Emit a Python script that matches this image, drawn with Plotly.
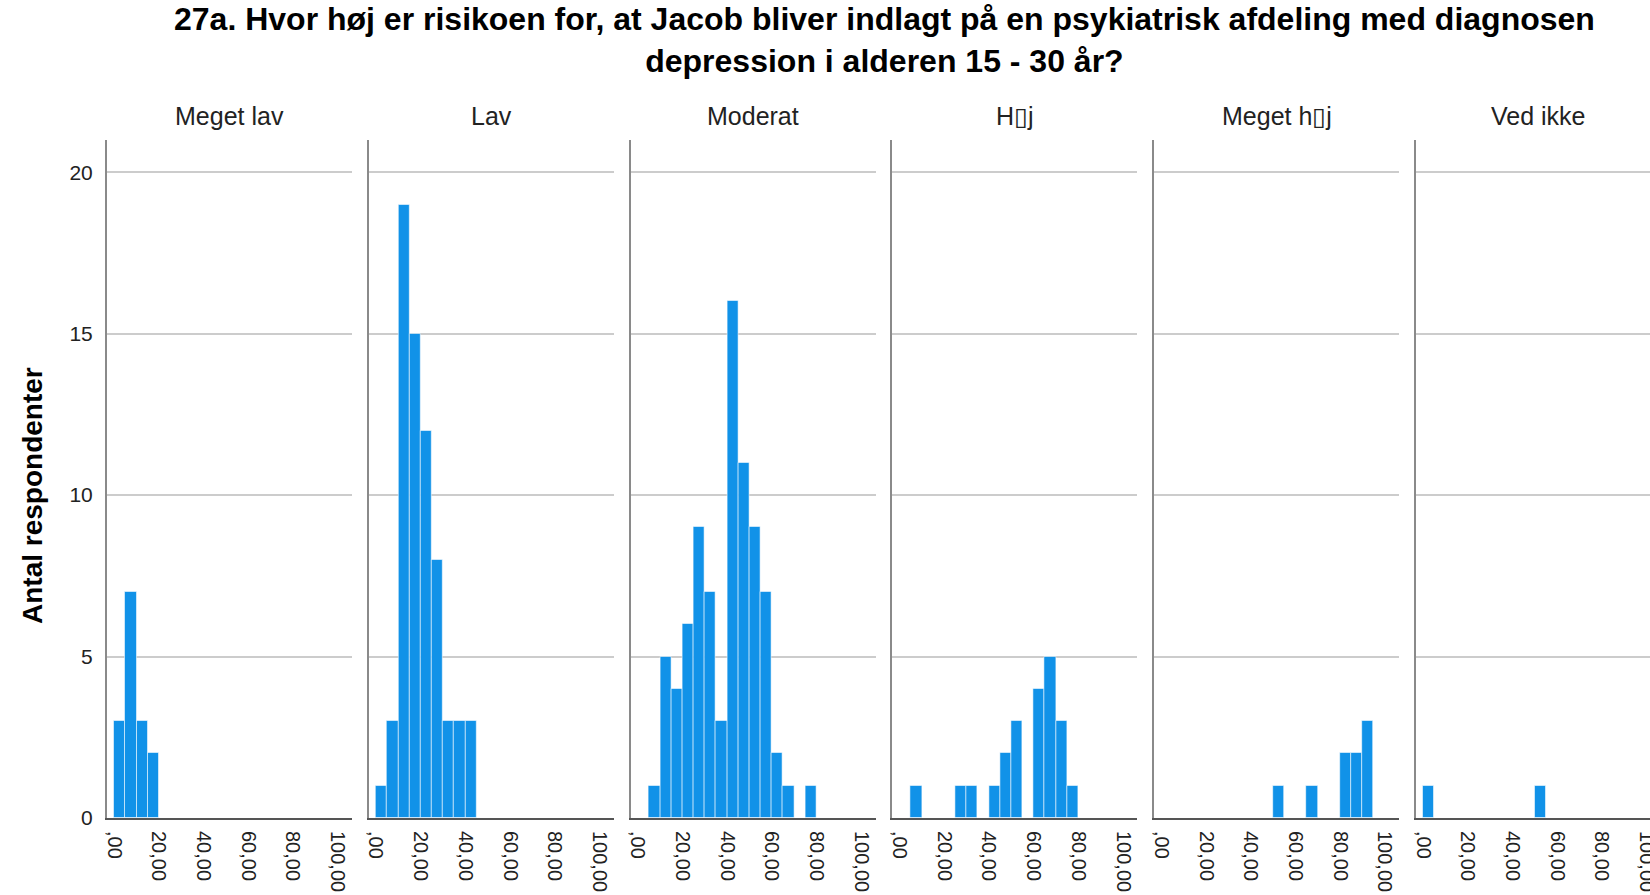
import plotly.graph_objects as go

# ---------------- data ----------------
bin_starts = [0, 5, 10, 15, 20, 25, 30, 35, 40, 45, 50, 55, 60, 65, 70, 75, 80, 85, 90, 95]

panel_names = ["Meget lav", "Lav", "Moderat", "H\u25afj", "Meget h\u25afj", "Ved ikke"]

meget_lav  = [3, 7, 3, 2, 0, 0, 0, 0, 0, 0, 0, 0, 0, 0, 0, 0, 0, 0, 0, 0]
lav        = [1, 3, 19, 15, 12, 8, 3, 3, 3, 0, 0, 0, 0, 0, 0, 0, 0, 0, 0, 0]
moderat    = [0, 1, 5, 4, 6, 9, 7, 3, 16, 11, 9, 7, 2, 1, 0, 1, 0, 0, 0, 0]
hoej       = [0, 1, 0, 0, 0, 1, 1, 0, 1, 2, 3, 0, 4, 5, 3, 1, 0, 0, 0, 0]
meget_hoej = [0, 0, 0, 0, 0, 0, 0, 0, 0, 0, 1, 0, 0, 1, 0, 0, 2, 2, 3, 0]
ved_ikke   = [1, 0, 0, 0, 0, 0, 0, 0, 0, 0, 1, 0, 0, 0, 0, 0, 0, 0, 0, 0]

x_tickvals = [0, 20, 40, 60, 80, 100]
x_ticktext = [",00", "20,00", "40,00", "60,00", "80,00", "100,00"]
y_tickvals = [0, 5, 10, 15, 20]

title_text = ("27a. Hvor høj er risikoen for, at Jacob bliver indlagt på en psykiatrisk afdeling med diagnosen"
              "<br>depression i alderen 15 - 30 år?")
y_title = "Antal respondenter"

# ---------------- layout geometry ----------------
W, H = 1650, 895
FONT = "Liberation Sans, Arial, sans-serif"
BAR_COLOR = "#1192E8"
plot_top, plot_bottom = 140, 818
panel_left0, panel_step, panel_w = 107, 261.8, 245
px_per_unit = 2.235
x_min = -3.2

series = [meget_lav, lav, moderat, hoej, meget_hoej, ved_ikke]

fig = go.Figure()
layout = {}
annotations = []

for i, (name, counts) in enumerate(zip(panel_names, series)):
    xa = "x" if i == 0 else f"x{i+1}"
    ya = "y" if i == 0 else f"y{i+1}"
    xs = [b for b, c in zip(bin_starts, counts) if c > 0]
    ys = [c for c in counts if c > 0]
    fig.add_trace(go.Bar(
        x=xs, y=ys, width=5, offset=0,
        xaxis=xa, yaxis=ya, showlegend=False,
        marker=dict(color=BAR_COLOR, line=dict(color="rgba(255,255,255,0.55)", width=1)),
    ))
    left = panel_left0 + i * panel_step
    right = min(left + panel_w, W)
    layout["xaxis" if i == 0 else f"xaxis{i+1}"] = dict(
        domain=[left / W, right / W],
        range=[x_min, x_min + (right - left) / px_per_unit],
        tickmode="array", tickvals=x_tickvals, ticktext=x_ticktext,
        tickangle=90, ticks="", ticklabelstandoff=7,
        ticklabeloverflow="allow", automargin=False,
        tickfont=dict(family=FONT, size=20, color="#222"),
        showline=True, linecolor="#555555", linewidth=2,
        showgrid=False, zeroline=False, anchor=ya,
    )
    layout["yaxis" if i == 0 else f"yaxis{i+1}"] = dict(
        domain=[1 - plot_bottom / H, 1 - plot_top / H],
        range=[0, 21], automargin=False,
        tickmode="array", tickvals=y_tickvals,
        showticklabels=(i == 0), ticks="", ticklabelstandoff=8,
        tickfont=dict(family=FONT, size=21, color="#222"),
        showgrid=True, gridcolor="#cccccc", gridwidth=2,
        showline=True, linecolor="#8a8a8a", linewidth=2,
        zeroline=False, anchor=xa,
    )
    annotations.append(dict(
        text=name, xref="paper", yref="paper",
        x=(left + panel_w / 2) / W, y=1 - 116 / H,
        xanchor="center", yanchor="middle", showarrow=False,
        font=dict(family=FONT, size=25, color="#222"),
    ))

annotations.append(dict(
    text="<b>" + title_text.replace("<br>", "</b><br><b>") + "</b>",
    xref="paper", yref="paper",
    x=884 / W, y=1 - 40 / H, xanchor="center", yanchor="middle",
    showarrow=False, align="center",
    font=dict(family=FONT, size=32, color="#000"),
))
annotations.append(dict(
    text="<b>" + y_title + "</b>", xref="paper", yref="paper",
    x=32 / W, y=1 - 496 / H, xanchor="center", yanchor="middle",
    textangle=-90, showarrow=False,
    font=dict(family=FONT, size=28, color="#000"),
))

fig.update_layout(
    **layout,
    annotations=annotations,
    width=W, height=H,
    margin=dict(l=0, r=0, t=0, b=0, autoexpand=False),
    paper_bgcolor="white", plot_bgcolor="white",
    bargap=0,
)

fig.write_html("out.html",
               config={"displayModeBar": False},
               post_script="document.body.style.margin='0';document.body.style.overflow='hidden';")
